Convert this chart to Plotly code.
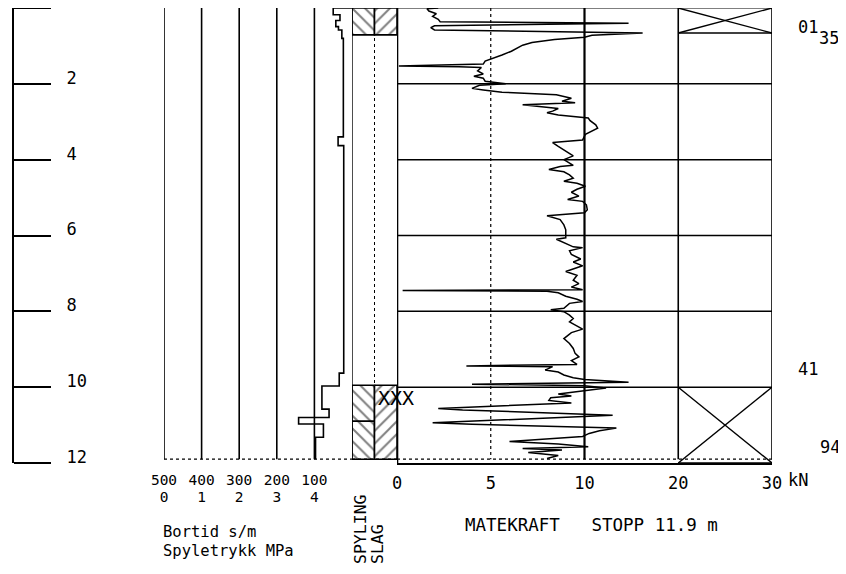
import plotly.graph_objects as go
import numpy as np

# the page body adds an 8 px margin: the figure is sized to fill the rest of the window
OFF = 8
W, H = 846 - OFF, 574 - OFF
PLOT_TOP, PLOT_BOTTOM = 8, 463            # screen pixels of depth 0 m and 12 m
ML, MR = 0, 0
MT = PLOT_TOP - OFF
MB = H - (PLOT_BOTTOM - OFF)
PLOT_H = H - MT - MB

# ---------------- data ----------------
DEPTH_TICKS = [0, 2, 4, 6, 8, 10, 12]
DEPTH_LABELS = ["", "2", "4", "6", "8", "10", "12"]
STOP_DEPTH = 11.9

# Bortid (s/m) - step curve: depth where each value starts
BORTID_DEPTH = [0.0, 0.0, 0.18, 0.33, 0.49, 0.58, 0.80, 3.40, 3.63, 9.63, 9.97, 10.58, 10.80, 10.97, 11.32, 11.90]
BORTID_VALUE = [0, 50, 32, 43, 36, 27, 23, 37, 22, 34, 80, 61, 142, 76, 97, 97]
BORTID_TICKS = [500, 400, 300, 200, 100]
SPYLETRYKK_TICKS = [0, 1, 2, 3, 4]

# Spyling / slag intervals (m)
SPYLING_INTERVALS = [(0.0, 0.71), (9.95, 10.90), (10.90, 11.90)]
SLAG_INTERVALS = [(0.0, 0.71), (9.95, 11.90)]

# Matekraft (kN) vs depth (m)
MK_DEPTH = [0.00, 0.02, 0.08, 0.15, 0.22, 0.30, 0.36, 0.40, 0.47, 0.52, 0.58, 0.66, 0.72, 0.77, 0.83, 0.91,
            0.98, 1.06, 1.14, 1.24, 1.33, 1.40, 1.48, 1.53, 1.55, 1.57, 1.66, 1.74, 1.80, 1.85, 1.93, 2.00,
            2.04, 2.12, 2.16, 2.22, 2.29, 2.38, 2.46, 2.50, 2.55, 2.59, 2.65, 2.72, 2.76, 2.82, 2.90, 2.97,
            3.08, 3.17, 3.25, 3.33, 3.48, 3.55, 3.65, 3.78, 3.90, 4.00, 4.10, 4.15, 4.18, 4.26, 4.32, 4.40,
            4.49, 4.57, 4.62, 4.70, 4.78, 4.86, 4.96, 5.05, 5.10, 5.19, 5.32, 5.40, 5.48, 5.58, 5.72, 5.85,
            5.95, 6.06, 6.10, 6.20, 6.30, 6.32, 6.40, 6.50, 6.62, 6.70, 6.80, 6.95, 7.05, 7.18, 7.27, 7.36,
            7.43, 7.45, 7.47, 7.51, 7.60, 7.68, 7.74, 7.79, 7.92, 7.96, 8.01, 8.10, 8.19, 8.28, 8.38, 8.47,
            8.56, 8.72, 8.85, 8.98, 9.11, 9.20, 9.30, 9.40, 9.44, 9.46, 9.55, 9.60, 9.68, 9.75, 9.80, 9.83,
            9.87, 9.92, 9.96, 10.02, 10.09, 10.18, 10.23, 10.28, 10.35, 10.42, 10.56, 10.60, 10.74, 10.94,
            10.98, 11.08, 11.15, 11.22, 11.30, 11.43, 11.50, 11.57, 11.62, 11.66, 11.72, 11.80, 11.88]
MK_VALUE = [2.2, 1.6, 1.7, 2.1, 1.9, 2.2, 2.3, 14.7, 2.0, 1.8, 2.0, 16.2, 10.8, 10.0, 8.4, 7.2,
            6.7, 6.4, 6.1, 5.6, 5.1, 4.7, 4.6, 0.1, 3.3, 4.5, 4.3, 4.6, 4.1, 4.6, 4.7, 5.8,
            4.4, 4.0, 4.6, 5.6, 8.5, 9.3, 8.8, 9.5, 6.7, 7.5, 8.6, 8.3, 8.0, 8.6, 10.4, 10.6,
            11.2, 11.4, 10.8, 10.1, 9.9, 8.3, 8.6, 9.0, 9.4, 8.9, 9.2, 9.4, 8.7, 8.1, 8.9, 9.2,
            9.4, 8.9, 9.6, 10.1, 9.6, 9.3, 9.7, 9.1, 9.9, 10.2, 10.3, 10.0, 8.0, 8.7, 8.9, 9.0,
            9.0, 9.0, 8.5, 9.0, 9.4, 9.9, 9.2, 9.3, 9.8, 9.4, 9.9, 9.0, 9.6, 9.4, 9.7, 9.3,
            9.9, 0.3, 8.0, 8.6, 9.0, 9.6, 9.9, 9.2, 8.9, 8.2, 8.9, 9.2, 9.4, 9.2, 9.6, 9.9,
            9.3, 8.9, 9.2, 9.4, 9.5, 9.7, 9.3, 9.6, 3.7, 8.3, 7.9, 8.6, 8.9, 9.4, 10.0, 12.0,
            14.7, 4.0, 10.0, 12.3, 10.0, 8.6, 9.3, 8.2, 8.1, 9.3, 2.2, 3.5, 13.0, 1.9,
            4.0, 13.4, 11.6, 10.5, 9.9, 6.0, 8.6, 10.4, 6.7, 8.8, 7.0, 8.6, 8.0]
MK_TICKS = [0, 5, 10, 20, 30]

# boxes with crosses in the 20-30 column (m)
XBOX_INTERVALS = [(0.0, 0.66), (10.0, 12.0)]

# labels at the right edge: (text, depth)
RIGHT_LABELS = [("01", 0.51), ("35", 0.80), ("41", 9.53), ("94", 11.57)]
RIGHT_LABEL_X = [808, 829, 808, 830]     # screen pixels (layout only)
XXX_DEPTH = 10.29

# ---------------- helpers ----------------
def px_x(p):
    """screen pixel -> paper x"""
    return (p - OFF - ML) / (W - ML - MR)

def px_y(p):
    """screen pixel -> paper y"""
    return (PLOT_BOTTOM - p) / PLOT_H

def mk_scale(v):
    v = np.asarray(v, dtype=float)
    return np.where(v <= 10, v, 10 + (v - 10) / 2.0)

FONT = "DejaVu Sans Mono"
blk = "black"

fig = go.Figure()

# Bortid step curve
fig.add_trace(go.Scatter(x=BORTID_VALUE, y=BORTID_DEPTH, mode="lines", line=dict(color=blk, width=1.6, shape="vh"),
                         xaxis="x", yaxis="y", hoverinfo="skip", showlegend=False))
# (no spyletrykk readings: invisible trace keeps the MPa scale drawn)
fig.add_trace(go.Scatter(x=[SPYLETRYKK_TICKS[0], SPYLETRYKK_TICKS[-1]], y=[STOP_DEPTH, STOP_DEPTH], mode="lines",
                         line=dict(color="rgba(0,0,0,0)", width=0), xaxis="x4", yaxis="y",
                         hoverinfo="skip", showlegend=False))

# hatch boxes
for (d0, d1) in SPYLING_INTERVALS:
    fig.add_trace(go.Scatter(x=[0, 1, 1, 0, 0], y=[d0, d0, d1, d1, d0], mode="lines", fill="toself",
                             fillcolor="white",
                             fillpattern=dict(shape="\\", size=9, solidity=0.22, fgcolor=blk, bgcolor="white"),
                             line=dict(color=blk, width=1.6), xaxis="x2", yaxis="y",
                             hoverinfo="skip", showlegend=False))
for (d0, d1) in SLAG_INTERVALS:
    fig.add_trace(go.Scatter(x=[1, 2, 2, 1, 1], y=[d0, d0, d1, d1, d0], mode="lines", fill="toself",
                             fillcolor="white",
                             fillpattern=dict(shape="/", size=9, solidity=0.22, fgcolor=blk, bgcolor="white"),
                             line=dict(color=blk, width=1.6), xaxis="x2", yaxis="y",
                             hoverinfo="skip", showlegend=False))

# Matekraft curve
fig.add_trace(go.Scatter(x=mk_scale(MK_VALUE), y=MK_DEPTH, mode="lines", line=dict(color=blk, width=1.5),
                         xaxis="x3", yaxis="y", hoverinfo="skip", showlegend=False))

shapes = []
# bortid verticals
for t in BORTID_TICKS:
    shapes.append(dict(type="line", xref="x", yref="y", x0=t, x1=t, y0=0, y1=STOP_DEPTH, line=dict(color=blk, width=1.6)))
# bortid / spyling bottom
shapes.append(dict(type="line", xref="x domain", yref="y", x0=0, x1=1, y0=STOP_DEPTH, y1=STOP_DEPTH, line=dict(color=blk, width=1.2, dash="dot")))
shapes.append(dict(type="line", xref="x2 domain", yref="y", x0=0, x1=1, y0=STOP_DEPTH, y1=STOP_DEPTH, line=dict(color=blk, width=1.2, dash="dot")))
# spyling column borders
shapes.append(dict(type="line", xref="x2", yref="y", x0=0, x1=0, y0=0, y1=STOP_DEPTH, line=dict(color=blk, width=1.4)))
shapes.append(dict(type="line", xref="x2", yref="y", x0=1, x1=1, y0=0, y1=STOP_DEPTH, line=dict(color=blk, width=1, dash="dot")))
# matekraft frame
shapes.append(dict(type="line", xref="x3", yref="y", x0=0, x1=0, y0=0, y1=12, line=dict(color=blk, width=2.6)))
for t, w, dsh in [(5, 1.2, "dot"), (10, 2.2, "solid"), (20, 1.6, "solid"), (30, 1.6, "solid")]:
    xv = float(mk_scale(t))
    shapes.append(dict(type="line", xref="x3", yref="y", x0=xv, x1=xv, y0=0, y1=STOP_DEPTH, line=dict(color=blk, width=w, dash=dsh)))
shapes.append(dict(type="line", xref="x3 domain", yref="y", x0=0, x1=1, y0=0, y1=0, line=dict(color=blk, width=1.2)))
for d in DEPTH_TICKS[1:-1]:
    shapes.append(dict(type="line", xref="x3 domain", yref="y", x0=0, x1=1, y0=d, y1=d, line=dict(color=blk, width=1.5)))
shapes.append(dict(type="line", xref="x3 domain", yref="y", x0=0, x1=1, y0=STOP_DEPTH, y1=STOP_DEPTH, line=dict(color=blk, width=1.2, dash="dot")))
# cross boxes
x20, x30 = float(mk_scale(20)), float(mk_scale(30))
for (d0, d1) in XBOX_INTERVALS:
    shapes.append(dict(type="line", xref="x3", yref="y", x0=x20, x1=x30, y0=d1, y1=d1, line=dict(color=blk, width=1.4)))
    shapes.append(dict(type="line", xref="x3", yref="y", x0=x20, x1=x30, y0=d0, y1=d1, line=dict(color=blk, width=1.4)))
    shapes.append(dict(type="line", xref="x3", yref="y", x0=x20, x1=x30, y0=d1, y1=d0, line=dict(color=blk, width=1.4)))

annotations = []
annotations.append(dict(text="kN", xref="paper", yref="paper", x=px_x(786), y=px_y(480), xanchor="left", yanchor="middle",
                        showarrow=False, font=dict(family=FONT, size=17, color=blk)))
annotations.append(dict(text="Bortid s/m", xref="paper", yref="paper", x=px_x(161), y=px_y(532), xanchor="left", yanchor="middle",
                        showarrow=False, font=dict(family=FONT, size=15.5, color=blk)))
annotations.append(dict(text="Spyletrykk MPa", xref="paper", yref="paper", x=px_x(161), y=px_y(551), xanchor="left", yanchor="middle",
                        showarrow=False, font=dict(family=FONT, size=15.5, color=blk)))
annotations.append(dict(text="SPYLING", xref="paper", yref="paper", x=px_x(360), y=px_y(566), xanchor="center", yanchor="bottom",
                        textangle=-90, showarrow=False, font=dict(family=FONT, size=16.5, color=blk)))
annotations.append(dict(text="SLAG", xref="paper", yref="paper", x=px_x(377), y=px_y(566), xanchor="center", yanchor="bottom",
                        textangle=-90, showarrow=False, font=dict(family=FONT, size=16.5, color=blk)))
annotations.append(dict(text=f"MATEKRAFT   STOPP {STOP_DEPTH} m", xref="paper", yref="paper", x=px_x(591), y=px_y(525),
                        xanchor="center", yanchor="middle", showarrow=False, font=dict(family=FONT, size=17.5, color=blk)))
annotations.append(dict(text="XXX", xref="paper", yref="y", x=px_x(396), y=XXX_DEPTH, xanchor="center", yanchor="middle",
                        showarrow=False, font=dict(family=FONT, size=20, color=blk)))
for (txt, d), xp in zip(RIGHT_LABELS, RIGHT_LABEL_X):
    annotations.append(dict(text=txt, xref="paper", yref="y", x=px_x(xp), y=d, xanchor="center", yanchor="middle",
                            showarrow=False, font=dict(family=FONT, size=17, color=blk)))

fig.update_layout(
    width=W, height=H, margin=dict(l=ML, r=MR, t=MT, b=MB, autoexpand=False),
    paper_bgcolor="white", plot_bgcolor="white", showlegend=False,
    yaxis=dict(range=[12, 0], domain=[0, 1], anchor="free", position=px_x(13), side="right", automargin=False,
               showline=True, linecolor=blk, linewidth=2, showgrid=False, zeroline=False,
               ticks="outside", ticklen=37, tickwidth=1.5, tickcolor=blk,
               tickvals=DEPTH_TICKS, ticktext=DEPTH_LABELS, ticklabelstandoff=12, ticklabelshift=6,
               tickfont=dict(family=FONT, size=17, color=blk)),
    xaxis=dict(domain=[px_x(164), px_x(352)], range=[500, 0], anchor="y", showgrid=False, zeroline=False, automargin=False,
               showline=False, ticks="", tickvals=BORTID_TICKS, ticktext=[str(t) for t in BORTID_TICKS],
               ticklabelstandoff=6, tickfont=dict(family=FONT, size=14.5, color=blk)),
    xaxis4=dict(overlaying="x", range=[0, 5], anchor="y", side="bottom", showgrid=False, zeroline=False, automargin=False,
                showline=False, ticks="", tickvals=SPYLETRYKK_TICKS, ticktext=[str(t) for t in SPYLETRYKK_TICKS],
                ticklabelstandoff=23, tickfont=dict(family=FONT, size=14.5, color=blk)),
    xaxis2=dict(domain=[px_x(352), px_x(397)], range=[0, 2], anchor="y", showgrid=False, zeroline=False, automargin=False,
                showline=False, showticklabels=False, ticks=""),
    xaxis3=dict(domain=[px_x(397), px_x(772)], range=[0, 20], anchor="y", showgrid=False, zeroline=False, automargin=False,
                showline=True, linecolor=blk, linewidth=2, ticks="",
                tickvals=list(mk_scale(MK_TICKS)), ticktext=[str(t) for t in MK_TICKS],
                ticklabelstandoff=4, tickfont=dict(family=FONT, size=17, color=blk)),
    shapes=shapes, annotations=annotations,
)

fig.write_html("out.html", config={"displayModeBar": False})
